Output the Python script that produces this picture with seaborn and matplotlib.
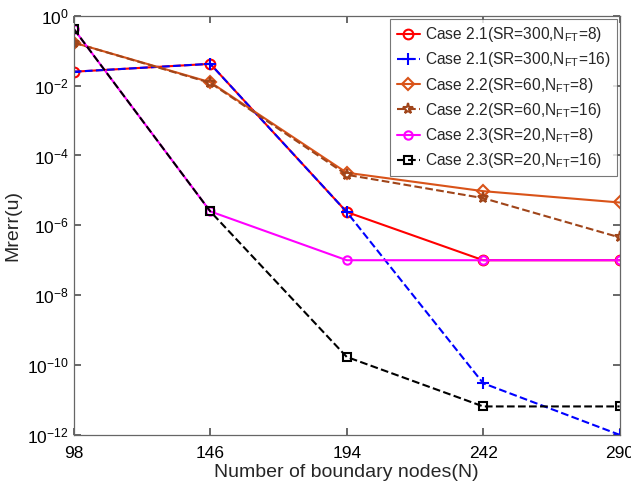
import matplotlib
matplotlib.use("Agg")
import matplotlib.pyplot as plt
import seaborn as sns
import numpy as np
from matplotlib.ticker import FixedLocator, NullLocator

nodes = [98, 146, 194, 242, 290]
case21_n8 = [2.5e-2, 4.2e-2, 2.4e-6, 1.0e-7, 1.0e-7]
case21_n16 = [2.5e-2, 4.2e-2, 2.4e-6, 3.0e-11, 1.0e-12]
case22_n8 = [1.7e-1, 1.25e-2, 3.2e-5, 9.5e-6, 4.5e-6]
case22_n16 = [1.7e-1, 1.2e-2, 2.8e-5, 6.0e-6, 4.5e-7]
case23_n8 = [4.2e-1, 2.5e-6, 1.0e-7, 1.0e-7, 1.0e-7]
case23_n16 = [4.2e-1, 2.5e-6, 1.7e-10, 6.5e-12, 6.5e-12]

labels = [
    r"Case 2.1(SR=300,N$_{\mathregular{FT}}$=8)",
    r"Case 2.1(SR=300,N$_{\mathregular{FT}}$=16)",
    r"Case 2.2(SR=60,N$_{\mathregular{FT}}$=8)",
    r"Case 2.2(SR=60,N$_{\mathregular{FT}}$=16)",
    r"Case 2.3(SR=20,N$_{\mathregular{FT}}$=8)",
    r"Case 2.3(SR=20,N$_{\mathregular{FT}}$=16)",
]

sns.set_theme(style="ticks")
plt.rcParams["font.family"] = ["Liberation Sans", "DejaVu Sans"]
plt.rcParams["mathtext.fontset"] = "custom"
plt.rcParams["mathtext.rm"] = "Liberation Sans"

fig = plt.figure(figsize=(6.31, 4.93), dpi=100)
ax = fig.add_axes([0.117, 0.118, 0.865, 0.850])

series = [
    (case21_n8, "#FF0000", "o", "-", 7),
    (case21_n16, "#0000FF", "+", "--", 8),
    (case22_n8, "#D95319", "D", "-", 6),
    (case22_n16, "#A0451A", "*", "--", 8),
    (case23_n8, "#FF00FF", "o", "-", 6),
    (case23_n16, "#000000", "s", "--", 5.5),
]

for (vals, col, mk, ls, ms), lab in zip(series, labels):
    sns.lineplot(x=nodes, y=vals, ax=ax, color=col, marker=mk, linestyle=ls,
                 linewidth=1.5, markersize=ms, markerfacecolor="none",
                 markeredgecolor=col, markeredgewidth=1.5, label=lab)

ax.set_yscale("log")
ax.set_xlim(98, 290)
ax.set_ylim(1e-12, 1)
ax.xaxis.set_major_locator(FixedLocator(nodes))
ax.set_xticklabels([str(n) for n in nodes])
ax.yaxis.set_major_locator(FixedLocator([10.0**k for k in range(-12, 1, 2)]))
ax.yaxis.set_minor_locator(NullLocator())
ax.tick_params(direction="in", top=True, right=True, labelsize=12.5, colors="#555555",
               labelcolor="black", length=5)
ax.tick_params(axis="x", pad=8)
for s in ax.spines.values():
    s.set_color("#666666")
    s.set_linewidth(0.9)

ax.set_xlabel("Number of boundary nodes(N)", fontsize=14, labelpad=2)
ax.set_ylabel("Mrerr(u)", fontsize=14)

leg = ax.legend(loc="upper right", fontsize=11.2, frameon=True, fancybox=False,
                handlelength=1.5, handletextpad=0.3, borderpad=0.4, labelspacing=0.4,
                borderaxespad=0.2)
leg.get_frame().set_edgecolor("#555555")
leg.get_frame().set_linewidth(0.8)

fig.savefig("out.png", dpi=100)
